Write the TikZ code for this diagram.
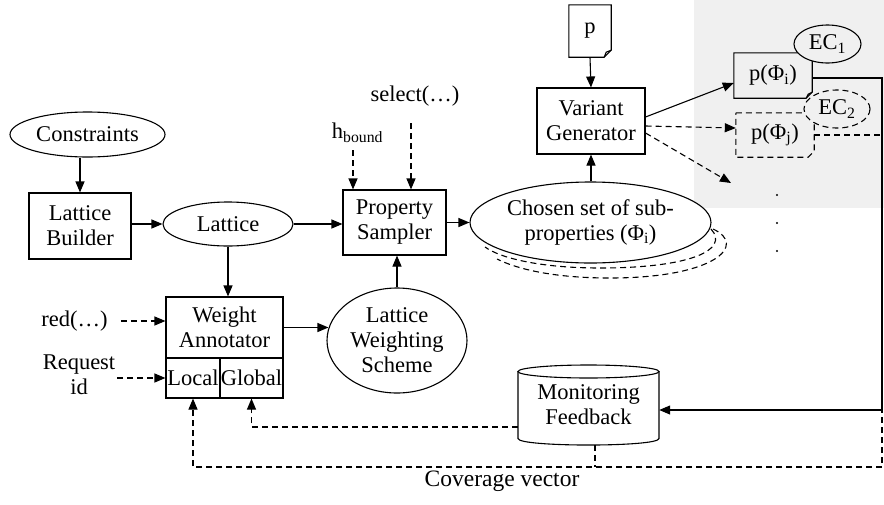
\documentclass[tikz,border=0pt]{standalone}
\usepackage{fontspec}
\setmainfont{Liberation Serif}
\usetikzlibrary{arrows.meta,shapes.geometric}
\begin{document}
\begin{tikzpicture}[x=1pt,y=-1pt,
  every node/.style={font=\fontsize{22.5}{25}\selectfont, inner sep=0pt, align=center},
  ln/.style={line width=1.1pt},
  arr/.style={ln, -{Triangle[length=11pt,width=9pt]}},
  dsh/.style={dash pattern=on 6pt off 4pt},
  boxn/.style={draw, ln, rectangle},
  ell/.style={draw, ln, ellipse},
  plainn/.style={rectangle},
  bgc/.style={fill=gray!12}]
\useasboundingbox (0,0) rectangle (884,504);
\fill[gray!12] (694,0) rectangle (884,208);

% nodes
\node[ell, minimum width=155pt, minimum height=45pt] (con) at (87.5,134.5) {Constraints};
\node[boxn, minimum width=102pt, minimum height=66pt] (lb) at (80,226) {Lattice\\Builder};
\node[ell, minimum width=130pt, minimum height=44pt] (lat) at (228,224) {Lattice};
\node[boxn, minimum width=103pt, minimum height=65pt] (ps) at (394.5,222.5) {Property\\Sampler};
\node[ell, minimum width=140pt, minimum height=105pt] (lws) at (397,340.5) {Lattice\\Weighting\\Scheme};
\node[boxn, minimum width=117pt, minimum height=61pt] (wa) at (224.5,327.5) {Weight\\Annotator};
\node[boxn, minimum width=54pt, minimum height=40pt] (local) at (193,378) {Local};
\node[boxn, minimum width=63pt, minimum height=40pt] (global) at (251.5,378) {Global};

% stacked dashed outlines behind chosen set
\draw[ln, dsh] (711,229) .. controls (730,250) and (690,268) .. (600,268) .. controls (540,268) and (500,258) .. (485,247);
\draw[ln, dsh] (713,229) .. controls (748,245) and (715,278) .. (610,278) .. controls (550,278) and (515,268) .. (497,259);
\node[ell, fill=white, minimum width=241pt, minimum height=81pt] (ch) at (590.5,222.5) {Chosen set of sub-\\properties (Φ\textsubscript{i})};

\node[boxn, minimum width=108pt, minimum height=66pt] (vg) at (591,121) {Variant\\Generator};

% document p
\node[plainn, minimum width=42pt, minimum height=52pt] (p) at (590,31) {p};
\draw[ln] (p.north west) -- (p.north east) -- ([yshift=7pt]p.south east) -- ([xshift=-7pt]p.south east) -- (p.south west) -- cycle;
\draw[ln] ([xshift=-7pt]p.south east) -- ([xshift=-5pt,yshift=5pt]p.south east) -- ([yshift=7pt]p.south east);

% document p(Phi_i)
\node[plainn, minimum width=78pt, minimum height=45pt] (pi) at (773,75.5) {p(Φ\textsubscript{i})};
\draw[ln] (pi.north west) -- (pi.north east) -- ([yshift=6pt]pi.south east) -- ([xshift=-6pt]pi.south east) -- (pi.south west) -- cycle;
\draw[ln] ([xshift=-6pt]pi.south east) -- ([xshift=-4pt,yshift=4pt]pi.south east) -- ([yshift=6pt]pi.south east);
\node[ell, bgc, minimum width=67pt, minimum height=38pt] (ec1) at (827.5,44) {EC\textsubscript{1}};

% document p(Phi_j)
\node[plainn, minimum width=78pt, minimum height=44pt] (pj) at (775,135) {p(Φ\textsubscript{j})};
\draw[ln, dsh] (pj.north west) -- (pj.north east) -- ([yshift=6pt]pj.south east) -- ([xshift=-6pt]pj.south east) -- (pj.south west) -- cycle;
\node[ell, dsh, bgc, minimum width=66pt, minimum height=38pt] (ec2) at (837,109) {EC\textsubscript{2}};

% dots
\fill (777,195) circle (1.1pt);
\fill (777,223) circle (1.1pt);
\fill (777,251) circle (1.1pt);
\coordinate (dotarr) at (731,183);

% monitoring feedback cylinder
\node[plainn, minimum width=141pt, minimum height=80pt] (mf) at (588.5,405) {Monitoring\\Feedback};
\draw[ln] (518,371.5) -- (518,438.5) .. controls (518,447.2) and (659,447.2) .. (659,438.5) -- (659,371.5);
\draw[ln] (588.5,371.5) ellipse [x radius=70.5, y radius=6.5];

% text labels
\node (red) at (74.5,321) {red(…)};
\node (req) at (79,375) {Request\\id};
\node (hb) at (357.5,133) {h\textsubscript{bound}};
\node (sel) at (415,96) {select(…)};
\node[font=\fontsize{23.5}{26}\selectfont] (cov) at (502,481) {Coverage vector};

\coordinate (hbs) at (353,150);
\coordinate (sels) at (411,123);
\coordinate (rt) at (882,0);
\coordinate (cvl) at (882,467);

% connectors
\draw[arr] (lb.north |- con.south) -- (lb.north);
\draw[arr] (lb.east |- lat.west) -- (lat.west);
\draw[arr] (lat.east) -- (lat.east -| ps.west);
\draw[arr] (lat.south) -- (lat.south |- wa.north);
\draw[arr] (wa.east) -- ([xshift=2pt]lws.west |- wa.east);
\draw[arr] (lws.north) -- (lws.north |- ps.south);
\draw[arr] (ps.east) -- (ch.west);
\draw[arr] (ch.north -| vg.south) -- (vg.south);
\draw[arr] (p.south) -- (vg.north);
\draw[arr] ([yshift=4pt]vg.east) -- ([yshift=-7.5pt]pi.west);
\draw[arr, dsh] ([yshift=-5pt]vg.east) -- ([yshift=7pt]pj.west);
\draw[arr, dsh] ([yshift=-12pt]vg.east) -- (dotarr);
\draw[arr] ([yshift=-2.5pt]pi.east) -| (rt |- mf.east) |- ([yshift=-5pt]mf.east);
\draw[ln, dsh] (pj.east) -| (cvl);
\draw[arr, dsh] (cvl) -| (local.south);
\draw[ln, dsh] ([xshift=6.5pt]mf.south) -- ([xshift=6.5pt]mf.south |- cvl);
\draw[arr, dsh] ([yshift=-22pt]mf.west) -| (global.south);
\draw[arr, dsh] ([xshift=13pt]red.east) -- (wa.west |- red.east);
\draw[arr, dsh] (local.west -| req.east) ++(2pt,0) -- (local.west);
\draw[arr, dsh] (hbs) -- (hbs |- ps.north);
\draw[arr, dsh] (sels) -- (sels |- ps.north);
\end{tikzpicture}
\end{document}
